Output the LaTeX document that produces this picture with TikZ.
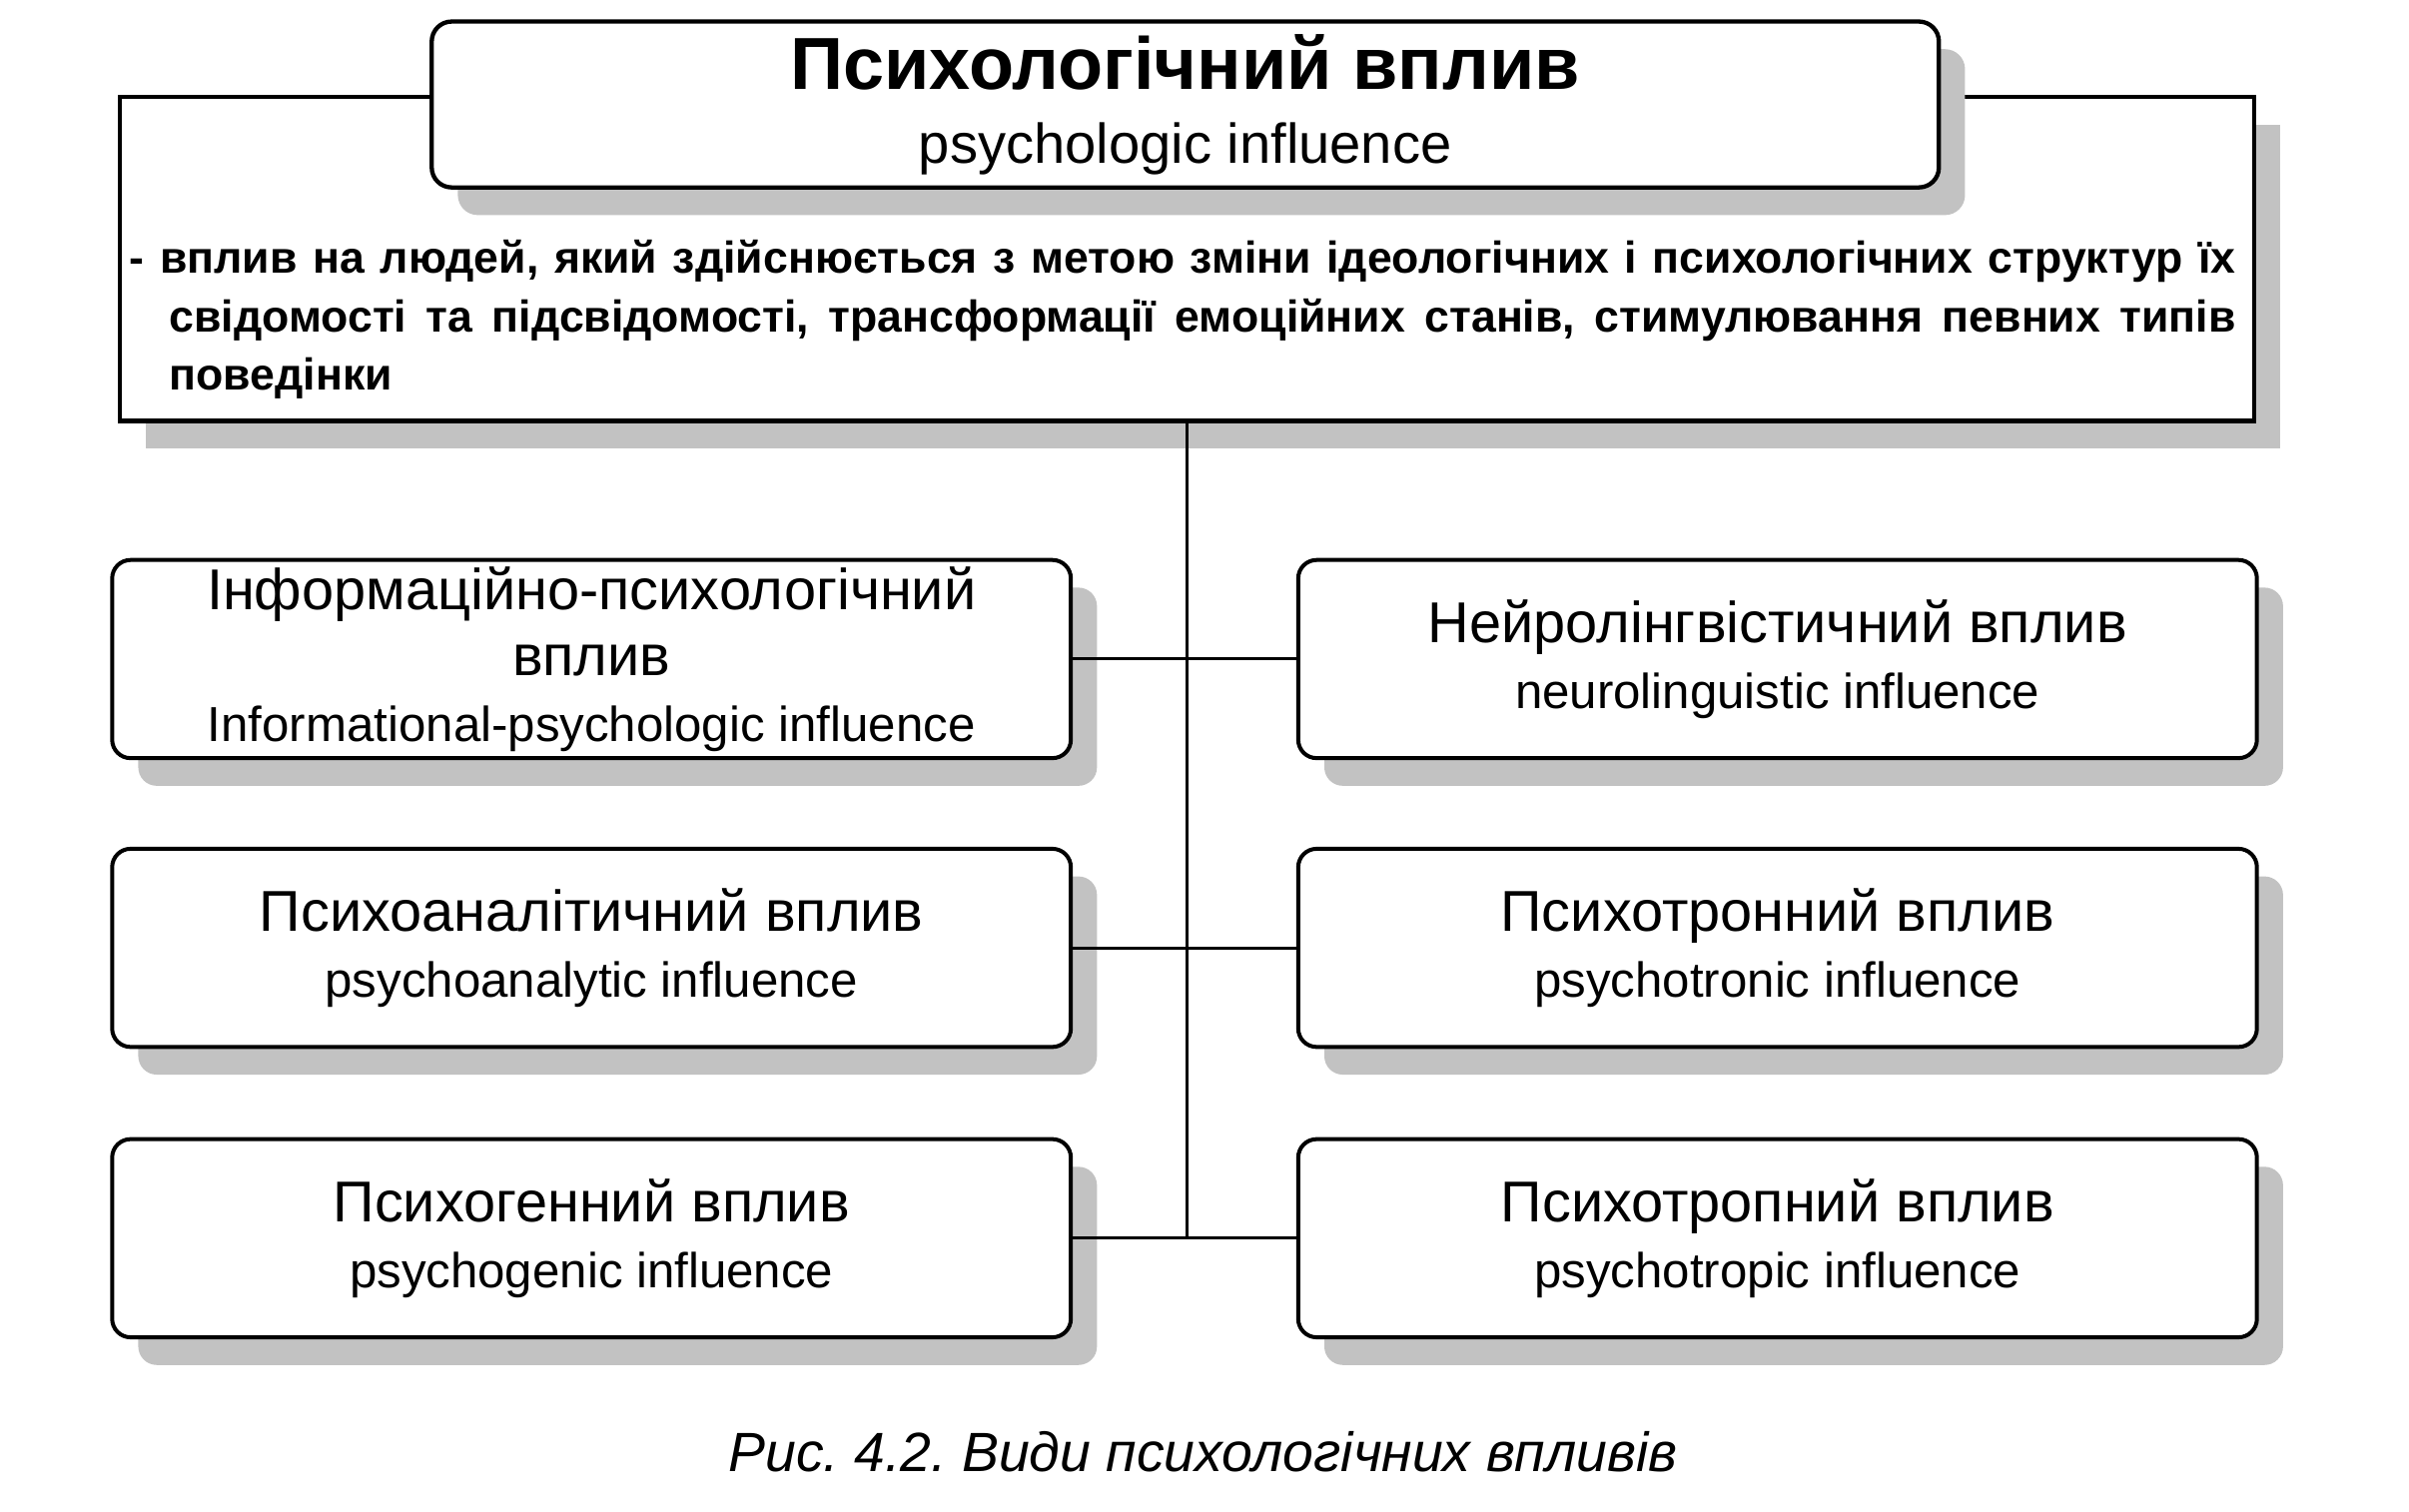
\documentclass[tikz,border=0pt]{standalone}
\usepackage{fontspec}
\setmainfont{Liberation Sans}
\usetikzlibrary{shadows}
\newcommand\hdfont{\fontsize{37.5}{43}\selectfont}
\newcommand\enfont{\fontsize{32}{43}\selectfont}
\begin{document}
\frenchspacing
\begin{tikzpicture}[x=1pt,y=-1pt,
  shade/.style={drop shadow={shadow xshift=17pt, shadow yshift=-18pt, fill=black!24, opacity=1}},
  box/.style={draw, line width=2.6pt, rounded corners=12pt, fill=white,
    minimum width=624pt, minimum height=129pt, align=center, inner sep=0pt,
    font=\hdfont, shade},
  titlebox/.style={draw, line width=2.8pt, rounded corners=13pt, fill=white,
    minimum width=981pt, minimum height=108pt, align=center, inner sep=0pt,
    font=\fontsize{48}{48}\selectfont, shade},
  defbox/.style={draw, line width=2.8pt, fill=white, minimum width=1389pt,
    minimum height=211pt, inner sep=0pt, shade},
  conn/.style={line width=2pt}]
\useasboundingbox (0,0) rectangle (1568,983.6);

% definition frame and title
\node[defbox] (def) at (772.5,168.5) {};
\node[titlebox] (title) at (771.5,68)
  {\bfseries Психологічний вплив\\
   {\fontsize{36.5}{48}\selectfont psychologic influence}};
\node[anchor=base west, inner sep=0pt] (deftext) at (84,178)
  {\parbox[t]{1371pt}{\fontsize{29}{38}\selectfont\bfseries
   \hangindent=26pt \hangafter=1
   - вплив на людей, який здійснюється з метою зміни ідеологічних і психологічних структур їх\linebreak
   свідомості та підсвідомості, трансформації емоційних станів, стимулювання певних типів\linebreak
   поведінки}};

% six kinds
\node[box] (l1) at (385,429)
  {\fontsize{37.5}{44}\selectfont Інформаційно-психологічний\\вплив\\{\enfont Informational-psychologic influence}};
\node[box] (r1) at (1157,429)
  {Нейролінгвістичний вплив\\{\enfont neurolinguistic influence}};
\node[box] (l2) at (385,617)
  {Психоаналітичний вплив\\{\enfont psychoanalytic influence}};
\node[box] (r2) at (1157,617)
  {Психотронний вплив\\{\enfont psychotronic influence}};
\node[box] (l3) at (385,806)
  {Психогенний вплив\\{\enfont psychogenic influence}};
\node[box] (r3) at (1157,806)
  {Психотропний вплив\\{\enfont psychotropic influence}};

% connectors
\draw[conn] (def.south) -- (def.south |- l3.east);
\draw[conn] (l1.east) -- (r1.west);
\draw[conn] (l2.east) -- (r2.west);
\draw[conn] (l3.east) -- (r3.west);

% caption
\node (caption) at (783,945)
  {\fontsize{36}{40}\selectfont\itshape Рис. 4.2. Види психологічних впливів};
\end{tikzpicture}
\end{document}
